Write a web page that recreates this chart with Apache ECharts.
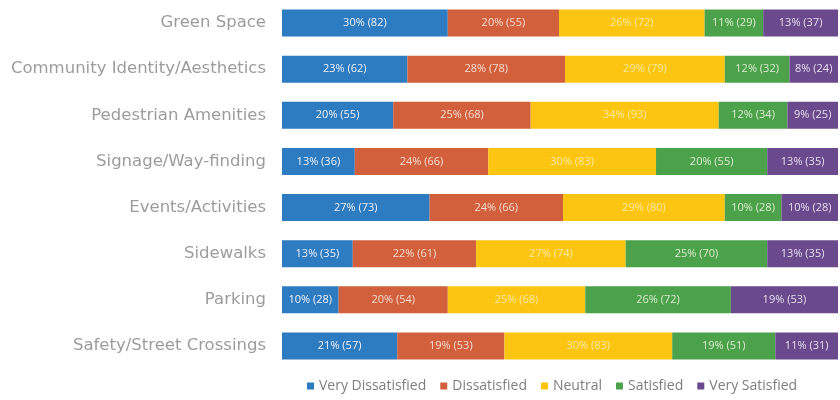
<!DOCTYPE html>
<html><head><meta charset="utf-8">
<script src="https://cdn.jsdelivr.net/npm/echarts@6/dist/echarts.min.js"></script>
<style>html,body{margin:0;padding:0;background:#fff}#c{width:840px;height:400px}</style>
</head><body><div id="c"></div>
<script>
const categories = ["Green Space","Community Identity/Aesthetics","Pedestrian Amenities","Signage/Way-finding","Events/Activities","Sidewalks","Parking","Safety/Street Crossings"];
const seriesNames = ["Very Dissatisfied","Dissatisfied","Neutral","Satisfied","Very Satisfied"];
const veryDissCount = [82,62,55,36,73,35,28,57];
const veryDissPct   = [30,23,20,13,27,13,10,21];
const dissCount     = [55,78,68,66,66,61,54,53];
const dissPct       = [20,28,25,24,24,22,20,19];
const neutralCount  = [72,79,93,83,80,74,68,83];
const neutralPct    = [26,29,34,30,29,27,25,30];
const satCount      = [29,32,34,55,28,70,72,51];
const satPct        = [11,12,12,20,10,25,26,19];
const verySatCount  = [37,24,25,35,28,35,53,31];
const verySatPct    = [13,8,9,13,10,13,19,11];

const counts = [veryDissCount, dissCount, neutralCount, satCount, verySatCount];
const pcts = [veryDissPct, dissPct, neutralPct, satPct, verySatPct];
const colors = ["#2d7bc0","#d2603c","#fbc512","#4ca24a","#6a4a8c"];
const labelColors = ["#eef3f8","#f6dccf","#fdeb9a","#d9eccf","#e6dcef"];
const totals = categories.map((c,i)=>counts.reduce((s,a)=>s+a[i],0));
const maxTotal = Math.max(...totals);

const chart = echarts.init(document.getElementById('c'));
chart.setOption({
  animation:false,
  grid:{left:282,right:2,top:-4,height:373,containLabel:false},
  legend:{
    bottom:2,left:302,itemWidth:7,itemHeight:7,itemGap:14,icon:'rect',
    textStyle:{color:'#7e7e7e',fontSize:14,fontFamily:'Open Sans'},
    data:seriesNames
  },
  xAxis:{type:'value',min:0,max:maxTotal,show:false},
  yAxis:{type:'category',inverse:true,data:categories,
    axisLine:{show:false},axisTick:{show:false},
    axisLabel:{color:'#9c9c9c',fontSize:16.5,margin:16,fontFamily:"'DejaVu Sans ExtraLight', 'DejaVu Sans'"}},
  series: seriesNames.map((n,k)=>({
    name:n,type:'bar',stack:'all',barWidth:27,
    itemStyle:{color:colors[k]},
    data:counts[k],
    label:{show:true,position:'inside',fontSize:11,fontFamily:'Open Sans',color:labelColors[k],
      formatter:p=>pcts[k][p.dataIndex]+'% ('+counts[k][p.dataIndex]+')'}
  }))
});
</script></body></html>
